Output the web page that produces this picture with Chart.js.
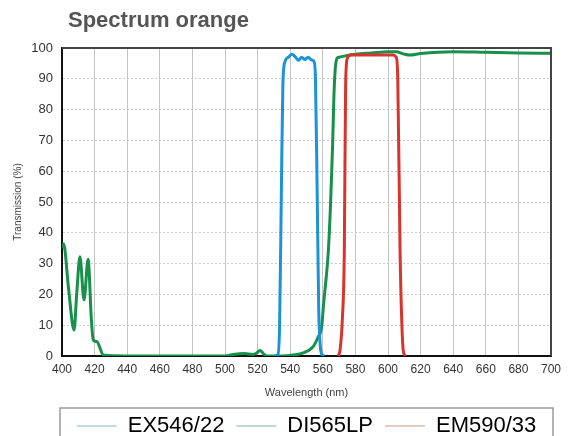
<!DOCTYPE html>
<html>
<head>
<meta charset="utf-8">
<script src="https://cdn.jsdelivr.net/npm/chart.js@4.4.0/dist/chart.umd.min.js"></script>
<style>
  html, body { margin: 0; padding: 0; background: #fff; }
</style>
</head>
<body>
<canvas id="spectrumChart" width="571" height="436"></canvas>
<script>
const chartTitle = 'Spectrum orange';
const seriesNames = ['EX546/22', 'DI565LP', 'EM590/33'];
const lineColors = ['#1b93d6', '#17904a', '#d8342b'];
const legendColors = ['#a9d0dc', '#a6cdc6', '#d8bcb2'];

// excitation filter
const exWave = [530, 532.5, 533.5, 534.5, 535.5, 536.8, 538.9, 541, 543, 545, 547, 549, 551, 553.2, 554.6, 555.5, 556.5, 557.5, 558.5, 559.5, 561];
const exTrans = [0, 0.5, 10, 50, 88, 95.6, 97, 98, 97.2, 96, 97, 96.3, 97, 96.1, 95.6, 90, 55, 15, 3, 0.5, 0];

// dichroic
const diWave = [400, 401, 404, 407.4, 409, 411, 413.5, 416, 418, 419.2, 421.7, 423, 425.3, 440, 480, 500, 505, 512, 517, 519, 521.5, 523.5, 525.6, 535, 541.7, 548, 554, 557, 559.3, 560.5, 562, 563.4, 564.8, 566, 566.8, 567.6, 568.7, 570, 575, 580, 590, 600, 605, 610, 613.5, 620, 640, 660, 680, 700];
const diTrans = [35, 36.4, 22, 8.4, 20, 32.2, 18.2, 31.4, 12, 5.2, 4.6, 3, 0.3, 0, 0, 0, 0.5, 0.8, 0.5, 0.8, 1.8, 0.8, 0, 0, 0.3, 1, 3, 6, 9.5, 17, 25, 34, 50, 68, 84, 93, 96.6, 97, 97.6, 98, 98.4, 98.8, 98.8, 98, 97.7, 98.2, 98.8, 98.6, 98.4, 98.3];

// emission filter
const emWave = [569.5, 570.6, 572, 573.2, 574, 575, 577, 590, 603, 605, 606, 607.4, 608.4, 609.3, 610.5];
const emTrans = [0, 2, 12, 34, 88, 96.5, 97.7, 97.7, 97.7, 97, 90, 34, 12, 2, 0];

const toPoints = (xs, ys) => xs.map((x, i) => ({ x: x, y: ys[i] }));

const framePlugin = {
  id: 'frame',
  afterDraw(chart) {
    const { ctx, chartArea, legend } = chart;
    ctx.save();
    ctx.font = 'bold 22px "Liberation Sans", Arial, sans-serif';
    ctx.fillStyle = '#555';
    ctx.textBaseline = 'alphabetic';
    ctx.fillText(chartTitle, 68, 27);

    ctx.strokeStyle = '#444';
    ctx.lineWidth = 2;
    ctx.beginPath();
    ctx.moveTo(chartArea.left, chartArea.top);
    ctx.lineTo(chartArea.right, chartArea.top);
    ctx.lineTo(chartArea.right, chartArea.bottom);
    ctx.stroke();

    ctx.strokeStyle = '#999';
    ctx.lineWidth = 1.5;
    ctx.strokeRect(60, legend.top + 5, 493, 60);
    ctx.restore();
  }
};

const ctx = document.getElementById('spectrumChart').getContext('2d');
new Chart(ctx, {
  type: 'line',
  data: {
    datasets: [
      { label: seriesNames[0], data: toPoints(exWave, exTrans), borderColor: lineColors[0], order: 1 },
      { label: seriesNames[1], data: toPoints(diWave, diTrans), borderColor: lineColors[1], order: 2 },
      { label: seriesNames[2], data: toPoints(emWave, emTrans), borderColor: lineColors[2], order: 0 }
    ]
  },
  options: {
    responsive: false,
    animation: false,
    parsing: false,
    elements: {
      line: { borderWidth: 3, cubicInterpolationMode: 'monotone', fill: false },
      point: { radius: 0 }
    },
    layout: { padding: { top: 48, left: 0, right: 20, bottom: -11 } },
    scales: {
      x: {
        type: 'linear',
        min: 400,
        max: 700,
        afterFit: (scale) => { scale.height = 47; },
        ticks: { stepSize: 20, padding: 6, color: '#333', font: { family: '"Liberation Sans", Arial, sans-serif', size: 12 } },
        grid: { color: '#c4c4c4', lineWidth: 1, drawTicks: false },
        border: { color: '#111', width: 2 },
        title: { display: true, text: 'Wavelength (nm)', color: '#444', padding: { top: 0, bottom: 3.5 }, font: { family: '"Liberation Sans", Arial, sans-serif', size: 11 } }
      },
      y: {
        min: 0,
        max: 100,
        afterFit: (scale) => { scale.width = 62; },
        ticks: { stepSize: 10, padding: 9, color: '#333', font: { family: '"Liberation Sans", Arial, sans-serif', size: 13 } },
        grid: { color: '#cccccc', lineWidth: 1, drawTicks: false },
        border: { color: '#111', width: 2, dash: [2, 2] },
        title: { display: true, text: 'Transmission (%)', color: '#444', padding: { top: 12, bottom: 0 }, font: { family: '"Liberation Sans", Arial, sans-serif', size: 10 } }
      }
    },
    plugins: {
      title: { display: false },
      tooltip: { enabled: false },
      legend: {
        position: 'bottom',
        fullSize: false,
        labels: {
          usePointStyle: true,
          pointStyleWidth: 40,
          padding: 12,
          color: '#333',
          font: { family: '"Liberation Sans", Arial, sans-serif', size: 22 },
          generateLabels: (chart) => chart.data.datasets.map((ds, i) => ({
            text: ds.label,
            fillStyle: legendColors[i],
            strokeStyle: legendColors[i],
            lineWidth: 1.5,
            pointStyle: 'line',
            hidden: false,
            datasetIndex: i
          }))
        }
      }
    }
  },
  plugins: [framePlugin]
});
</script>
</body>
</html>
